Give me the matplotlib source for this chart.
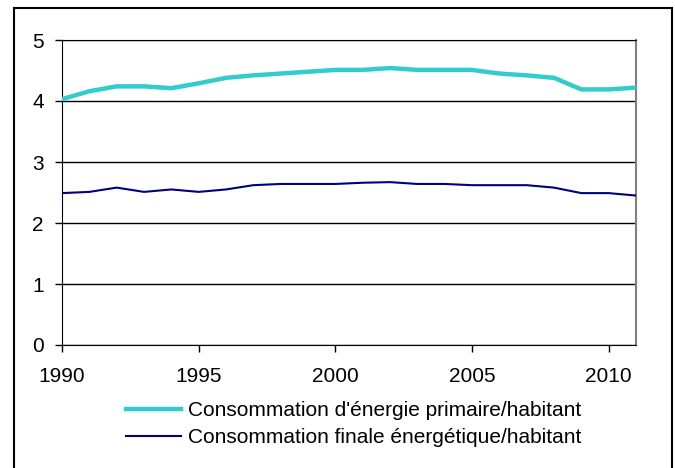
import matplotlib
matplotlib.use('Agg')
import matplotlib.pyplot as plt
from matplotlib.lines import Line2D
from matplotlib.patches import Rectangle

plt.rcParams['font.family'] = ['Liberation Sans', 'DejaVu Sans']

years = list(range(1990, 2012))
primaire = [4.03, 4.16, 4.24, 4.24, 4.21, 4.29, 4.38, 4.42, 4.45, 4.48, 4.51,
            4.51, 4.54, 4.51, 4.51, 4.51, 4.45, 4.42, 4.38, 4.19, 4.19, 4.22]
finale = [2.49, 2.51, 2.58, 2.51, 2.55, 2.51, 2.55, 2.62, 2.64, 2.64, 2.64,
          2.66, 2.67, 2.64, 2.64, 2.62, 2.62, 2.62, 2.58, 2.49, 2.49, 2.45]
labels = ["Consommation d'énergie primaire/habitant",
          "Consommation finale énergétique/habitant"]

fig = plt.figure(figsize=(6.75, 4.68), dpi=100)
ax = fig.add_axes([62/675, 1 - 345/468, (636-62)/675, (345-40)/468])

# frame around the whole chart
fig.patches.append(Rectangle((13.5/675, -0.02), (671.5-13.5)/675, 1 - 8/468 + 0.02,
                             transform=fig.transFigure, fill=False,
                             edgecolor='black', linewidth=1.5, zorder=0))

ax.plot(years, primaire, color='#33CCCC', linewidth=3.2, solid_joinstyle='round', zorder=3)
ax.plot(years, finale, color='#000080', linewidth=1.5, zorder=3)

ax.set_xlim(1990, 2011)
ax.set_ylim(0, 5)
ax.set_yticks([0, 1, 2, 3, 4, 5])
ax.set_xticks([1990, 1995, 2000, 2005, 2010])
ax.yaxis.grid(True, color='black', linewidth=1)
ax.tick_params(labelsize=15, length=5, width=1, color='black')
ax.tick_params(axis='y', pad=8)
ax.tick_params(axis='x', pad=11)

for side in ['left', 'bottom', 'top']:
    ax.spines[side].set_color('black')
ax.spines['right'].set_color('#808080')
ax.spines['right'].set_linewidth(1.5)

handles = [Line2D([], [], color='#33CCCC', linewidth=3.2),
           Line2D([], [], color='#000080', linewidth=1.5)]
fig.legend(handles, labels, loc='center', bbox_to_anchor=(354/675, 1 - 424/468),
           frameon=False, fontsize=15, handlelength=2.64, handletextpad=0.32,
           labelspacing=0.4, borderpad=0)

fig.savefig('out.png', dpi=100)
